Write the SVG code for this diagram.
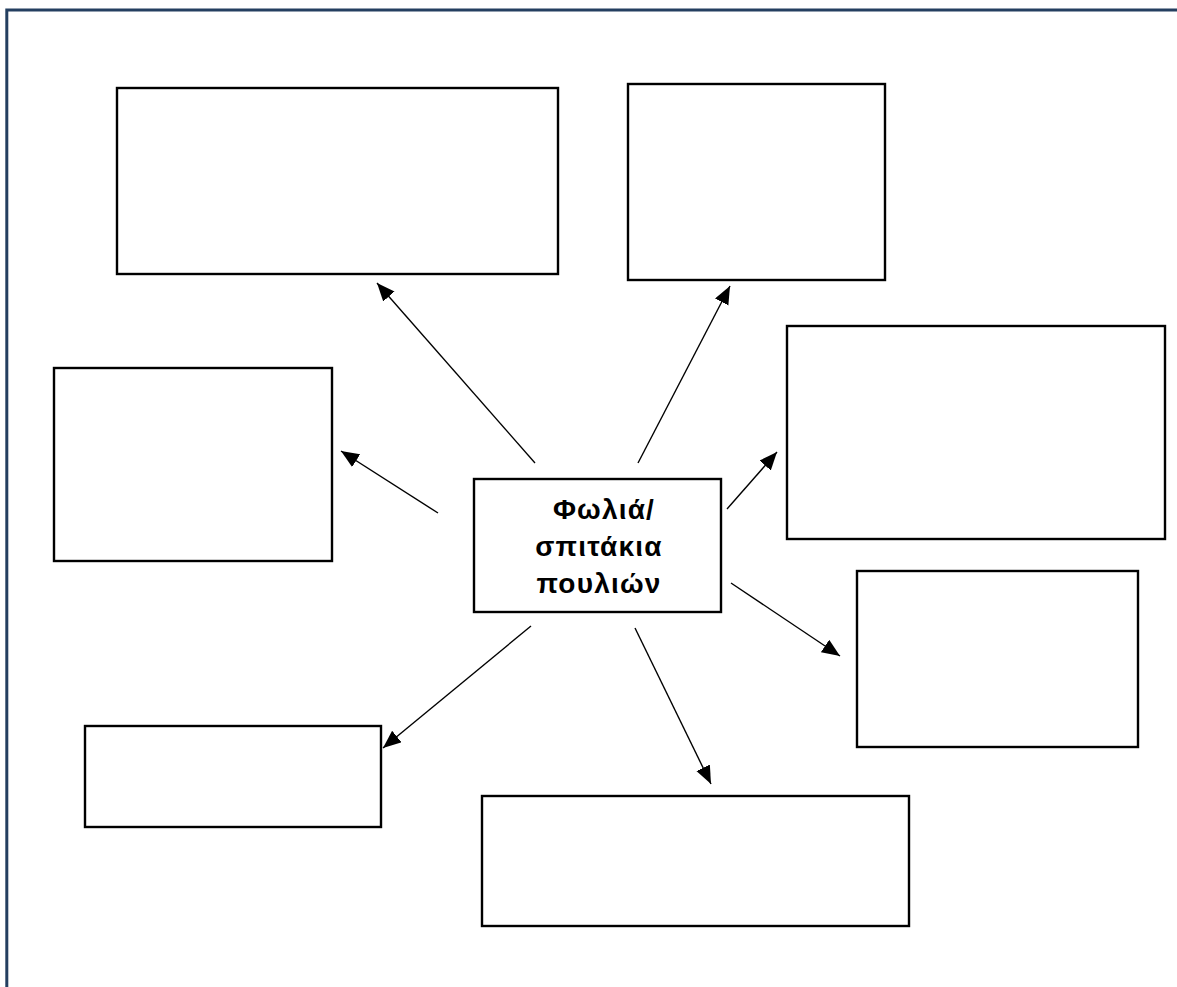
<svg xmlns="http://www.w3.org/2000/svg" width="1177" height="987" viewBox="0 0 1177 987">
<style>
.box{fill:#fff;stroke:#000;stroke-width:2.4}
.con{stroke:#000;stroke-width:1.4;fill:none;marker-end:url(#ah)}
.lbl{font-family:"Liberation Sans",Arial,sans-serif;font-weight:bold;font-size:28px;letter-spacing:1.2px;fill:#000;text-anchor:middle}
</style>
<defs>
<marker id="ah" markerUnits="userSpaceOnUse" markerWidth="20" markerHeight="16" refX="18" refY="7.5" orient="auto">
<path d="M0,0 L18,7.5 L0,15 Z" fill="#000"/>
</marker>
</defs>
<rect width="1177" height="987" fill="#fff"/>
<path d="M6.8,987 V10 H1177" fill="none" stroke="#243F60" stroke-width="3"/>
<g id="n-topleft"><rect class="box" x="117" y="88" width="441" height="186"/></g>
<g id="n-topmid"><rect class="box" x="628" y="84" width="257" height="196"/></g>
<g id="n-right"><rect class="box" x="787" y="326" width="378" height="213"/></g>
<g id="n-left"><rect class="box" x="54" y="368" width="278" height="193"/></g>
<g id="n-rightlow"><rect class="box" x="857" y="571" width="281" height="176"/></g>
<g id="n-botleft"><rect class="box" x="85" y="726" width="296" height="101"/></g>
<g id="n-botmid"><rect class="box" x="482" y="796" width="427" height="130"/></g>
<g id="n-center">
<rect class="box" x="474" y="479" width="247" height="133"/>
<text class="lbl" x="604" y="519">Φωλιά/</text>
<text class="lbl" x="599" y="556">σπιτάκια</text>
<text class="lbl" x="599" y="593">πουλιών</text>
</g>
<g id="connectors">
<line class="con" x1="535" y1="463" x2="377" y2="283"/>
<line class="con" x1="638" y1="463" x2="730" y2="286"/>
<line class="con" x1="438" y1="513" x2="341" y2="451"/>
<line class="con" x1="727" y1="509" x2="777" y2="452"/>
<line class="con" x1="731" y1="583" x2="840" y2="656"/>
<line class="con" x1="531" y1="626" x2="383" y2="748"/>
<line class="con" x1="635" y1="628" x2="711" y2="784"/>
</g>
</svg>
